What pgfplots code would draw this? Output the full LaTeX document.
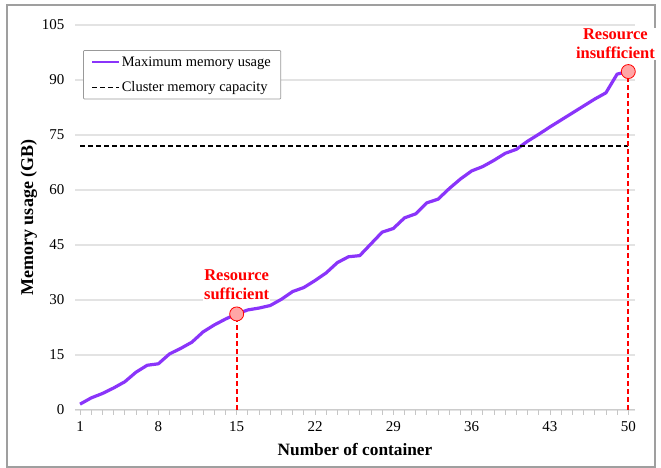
\documentclass[border=0pt]{standalone}
\usepackage{fontspec}
\setmainfont{Liberation Serif}
\usepackage{pgfplots}
\pgfplotsset{compat=1.18}
\definecolor{vio}{RGB}{138,52,250}
\begin{document}
\begin{tikzpicture}
\useasboundingbox (-75pt,-58pt) rectangle (586pt,410pt);
\draw[gray!75, line width=1.2pt] (-68pt,-57pt) rectangle (580pt,405pt);
\begin{axis}[
  at={(0pt,0pt)}, anchor=south west,
  scale only axis, width=560pt, height=385pt,
  xmin=0.55, xmax=50.6, ymin=0, ymax=105,
  clip=false,
  axis x line*=bottom, axis y line*=left,
  y axis line style={draw=none},
  x axis line style={gray!40, line width=1pt},
  xtick={1,8,...,50}, minor xtick={1,...,50},
  ytick={0,15,...,105},
  tick align=outside,
  major tick length=5pt, minor tick length=5pt,
  xtick style={gray!45, line width=0.8pt},
  ytick style={draw=none},
  ymajorgrids, grid style={gray!22, line width=1.2pt},
  /pgf/number format/assume math mode=true,
  tick label style={font=\fontsize{15}{17}\selectfont},
  yticklabel style={xshift=-2pt},
  xticklabel style={yshift=-3pt},
  xlabel={Number of container},
  ylabel={Memory usage (GB)},
  xlabel style={font=\fontsize{17.3}{20}\selectfont\bfseries, yshift=-5pt},
  ylabel style={font=\fontsize{18}{21}\selectfont\bfseries, yshift=-2pt},
  legend style={at={(rel axis cs:0.0143,0.935)}, anchor=north west,
    draw=gray!80, line width=0.8pt, rounded corners=1pt,
    font=\fontsize{14.5}{17}\selectfont, inner xsep=8pt, inner ysep=4pt,
    row sep=10pt},
  legend cell align=left,
  legend image code/.code={\draw[#1] (0pt,0pt) -- (20pt,0pt); \path (0pt,0pt) -- (27pt,0pt);},
  legend image post style={line width=1.4pt},
]
\addplot[color=vio, line width=3.2pt, line join=round] coordinates {
(1,1.6) (2,3.3) (3,4.5) (4,6.0) (5,7.7) (6,10.3) (7,12.2) (8,12.6) (9,15.3) (10,16.8)
(11,18.5) (12,21.3) (13,23.2) (14,24.8) (15,26.2) (16,27.3) (17,27.8) (18,28.5) (19,30.2) (20,32.3)
(21,33.4) (22,35.3) (23,37.4) (24,40.2) (25,41.8) (26,42.1) (27,45.3) (28,48.5) (29,49.5) (30,52.4)
(31,53.5) (32,56.5) (33,57.5) (34,60.4) (35,63.0) (36,65.2) (37,66.4) (38,68.1) (39,70.0) (40,71.1)
(41,73.3) (42,75.2) (43,77.2) (44,79.1) (45,81.0) (46,82.9) (47,84.8) (48,86.5) (49,91.6) (50,92.3)
};
\addlegendentry{Maximum memory usage}
\addplot[black, line width=1.3pt, dash pattern=on 5pt off 3pt] coordinates {(1,72) (50,72)};
\addlegendentry{Cluster memory capacity}
\addplot[red, line width=1.8pt, dash pattern=on 5pt off 3pt, forget plot] coordinates {(15,0) (15,26.2)};
\addplot[red, line width=1.8pt, dash pattern=on 5pt off 3pt, forget plot] coordinates {(50,0) (50,92.3)};
\addplot[only marks, mark=*, mark size=7pt, mark options={fill=red!35, draw=red, line width=0.8pt}, forget plot] coordinates {(15,26.2) (50,92.3)};
\node[fill=white, text=red, font=\fontsize{16.5}{19}\selectfont\bfseries, align=center, inner sep=1pt] at (axis cs:15,34.2) {Resource\\sufficient};
\node[fill=white, text=red, font=\fontsize{16.5}{19}\selectfont\bfseries, align=center, inner sep=1pt] at (axis cs:48.85,99.8) {Resource\\insufficient};
\end{axis}
\end{tikzpicture}
\end{document}
